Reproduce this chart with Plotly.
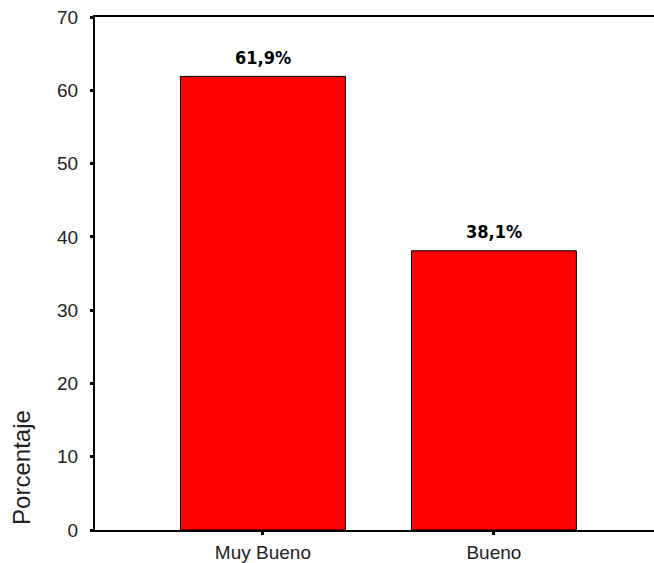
import plotly.graph_objects as go

categories = ["Muy Bueno", "Bueno"]
values = [61.9, 38.1]
labels = ["61,9%", "38,1%"]
y_ticks = [0, 10, 20, 30, 40, 50, 60, 70]

fig = go.Figure()
fig.add_trace(go.Bar(
    x=categories, y=values, width=0.714,
    marker=dict(color="#FF0000", line=dict(color="#000000", width=1)),
    hoverinfo="skip",
))

for c, v, t in zip(categories, values, labels):
    fig.add_annotation(x=c, y=v, text="<b>" + t + "</b>", showarrow=False, yanchor="middle", yshift=19,
                       font=dict(family="Liberation Sans Narrow, Arial Narrow, DejaVu Sans Condensed, Liberation Sans",
                                 size=18, color="#000000"))
fig.add_annotation(xref="paper", yref="paper", x=-0.1306, y=0.123, text="Porcentaje", textangle=-90,
                   showarrow=False, xanchor="center", yanchor="middle",
                   font=dict(family="Liberation Sans, Arial", size=24, color="#222222"))

tickfont = dict(family="Liberation Sans, Arial", size=19, color="#222222")
fig.update_layout(
    width=654, height=563,
    margin=dict(l=95, r=0, t=17, b=33),
    plot_bgcolor="white", paper_bgcolor="white",
    showlegend=False,
    xaxis=dict(range=[-0.727, 1.693], showgrid=False, showline=True, linecolor="#000000", linewidth=2,
               mirror=True, ticks="outside", ticklen=3, tickwidth=3, tickcolor="#000000",
               tickfont=tickfont, zeroline=False, ticklabelstandoff=1),
    yaxis=dict(range=[0, 70], tickvals=y_ticks, showgrid=False, showline=True, linecolor="#000000", linewidth=2,
               ticks="outside", ticklen=3, tickwidth=3, tickcolor="#000000", zeroline=False,
               tickfont=tickfont, ticklabelstandoff=8),
)
fig.write_html("out.html")
